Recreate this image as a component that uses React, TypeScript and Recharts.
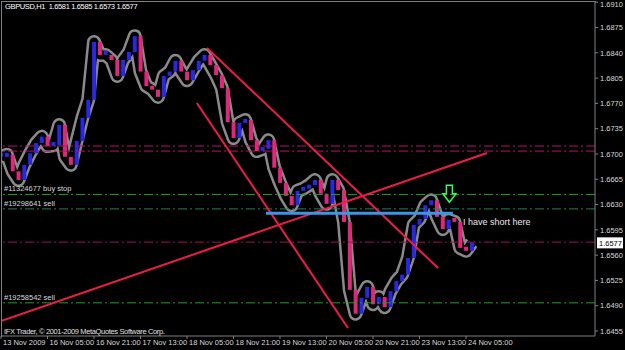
import React from "react";
import {
  ComposedChart, Area, Bar, Cell, XAxis, YAxis, ReferenceLine, ReferenceDot,
} from "recharts";

const FONT = "'Liberation Sans', Arial, sans-serif";
const GRAY = "#808080";
const TXT = { fontSize: 7.5, fill: "#d8d8d8", fontFamily: FONT };

// GBPUSD H1 closes, one point every 2 hourly bars (bar 0 = 13 Nov 2009)
const closes = [
  1.6696, 1.6699, 1.6676, 1.6664, 1.6685, 1.6701, 1.6715, 1.6724, 1.6711, 1.6712,
  1.6740, 1.6696, 1.6685, 1.6718, 1.6750, 1.6775, 1.6855, 1.6837, 1.6837, 1.6830,
  1.6808, 1.6830, 1.6841, 1.6863, 1.6814, 1.6794, 1.6789, 1.6779, 1.6808, 1.6814,
  1.6829, 1.6814, 1.6802, 1.6816, 1.6829, 1.6837, 1.6823, 1.6809, 1.6791, 1.6744,
  1.6722, 1.6743, 1.6747, 1.6719, 1.6704, 1.6707, 1.6719, 1.6681, 1.6660, 1.6642,
  1.6629, 1.6649, 1.6652, 1.6657, 1.6664, 1.6645, 1.6631, 1.6664, 1.6650, 1.6606,
  1.6512, 1.6479, 1.6501, 1.6516, 1.6492, 1.6502, 1.6488, 1.6510, 1.6524, 1.6533,
  1.6556, 1.6602, 1.6610, 1.6629, 1.6636, 1.6613, 1.6596, 1.6609, 1.6606, 1.6570,
  1.6566, 1.6577,
];

const xTicks = [0, 16, 32, 48, 64, 80, 96, 112, 128, 144, 160];
const xLabels = [
  "13 Nov 2009", "16 Nov 05:00", "16 Nov 21:00", "17 Nov 13:00", "18 Nov 05:00",
  "18 Nov 21:00", "19 Nov 13:00", "20 Nov 05:00", "20 Nov 21:00", "23 Nov 13:00",
  "24 Nov 05:00",
];
const yTicks = [
  1.6455, 1.6490, 1.6525, 1.6560, 1.6595, 1.6630, 1.6665, 1.6700,
  1.6735, 1.6770, 1.6805, 1.6840, 1.6875, 1.6910,
];

// horizontal order / level lines
const levels = [
  { price: 1.6711, color: "#b3166b", label: "" },
  { price: 1.6704, color: "#b3166b", label: "" },
  { price: 1.6644, color: "#1ea01e", label: "#11324677 buy stop" },
  { price: 1.6624, color: "#1f8060", label: "#19298641 sell" },
  { price: 1.6578, color: "#a0105a", label: "" },
  { price: 1.6494, color: "#1ea01e", label: "#19258542 sell" },
];

// hand-drawn trend lines: [bar, price] -> [bar, price]
const trends = [
  { from: [70.9, 1.68467], to: [150.4, 1.65422] },
  { from: [67.4, 1.67706], to: [119.4, 1.64592] },
  { from: [0, 1.64688], to: [167.2, 1.67014] },
];
const blueLine = { from: [91.2, 1.6618], to: [155.5, 1.6618] };

const arrowAt = { bar: 154.3, price: 1.6645 };
const noteAt = { bar: 159, price: 1.6606, text: "I have short here" };
const lastPrice = 1.6577;

const data = closes.map((c, i) => {
  const o = i ? closes[i - 1] : c;
  return { bar: i * 2, close: c, body: [Math.min(o, c), Math.max(o, c)], up: c >= o };
});

const XTick = ({ x, y, payload }: any) => (
  <text x={x + 2} y={y + 6} {...TXT}>{xLabels[xTicks.indexOf(payload.value)]}</text>
);
const YTick = ({ x, y, payload }: any) => (
  <text x={x + 2} y={Math.max(y + 2.7, 7)} {...TXT}>{payload.value.toFixed(4)}</text>
);

const Arrow = ({ cx, cy }: any) => (
  <polygon
    points={`${cx - 3},${cy - 8.5} ${cx + 3},${cy - 8.5} ${cx + 3},${cy} ${cx + 6.5},${cy} ${cx},${cy + 8.5} ${cx - 6.5},${cy} ${cx - 3},${cy}`}
    fill="none" stroke="#33ff55" strokeWidth={1.5}
  />
);
const Note = ({ cx, cy }: any) => (
  <text x={cx} y={cy + 3} fontSize={9} fill="#e8e8e8" fontFamily={FONT}>{noteAt.text}</text>
);
const PriceBox = ({ cx, cy }: any) => (
  <g>
    <rect x={cx + 2} y={cy - 5.5} width={26} height={11} fill="#fff" />
    <text x={cx + 4} y={cy + 3} fontSize={7.5} fill="#000" fontFamily={FONT}>{lastPrice.toFixed(4)}</text>
  </g>
);

export default function App() {
  return (
    <div style={{ position: "fixed", left: 0, top: 0, width: 625, height: 350, background: "#000", overflow: "hidden" }}>
      <ComposedChart width={625} height={350} data={data} margin={{ top: 2, right: 0, bottom: 0, left: 1 }}>
        <XAxis
          dataKey="bar" type="number" domain={[0, 204.4]} allowDataOverflow
          ticks={xTicks} interval={0} tick={<XTick />} height={14}
          tickSize={3} tickMargin={0} axisLine={{ stroke: GRAY }} tickLine={{ stroke: GRAY }}
        />
        <YAxis
          orientation="right" type="number" domain={[1.64481, 1.69103]} allowDataOverflow
          ticks={yTicks} interval={0} tick={<YTick />} width={30}
          tickSize={3} tickMargin={0} axisLine={{ stroke: GRAY }} tickLine={{ stroke: GRAY }}
        />
        {levels.map((l, i) => (
          <ReferenceLine
            key={i} y={l.price} stroke={l.color} strokeDasharray="9 3 2 3"
            label={l.label ? { value: l.label, position: "insideBottomLeft", offset: 3, ...TXT } : undefined}
          />
        ))}
        <Area
          dataKey="close" type="linear" stroke="#8a8a8a" strokeWidth={14} fill="none"
          strokeLinejoin="round" dot={false} activeDot={false} isAnimationActive={false}
        />
        <Area
          dataKey="close" type="linear" stroke="#000" strokeWidth={9} fill="none"
          strokeLinejoin="round" dot={false} activeDot={false} isAnimationActive={false}
        />
        <Bar dataKey="body" barSize={4} minPointSize={4} isAnimationActive={false}>
          {data.map((d, i) => <Cell key={i} fill={d.up ? "#2828e0" : "#e0287a"} />)}
        </Bar>
        {trends.map((t, i) => (
          <ReferenceLine
            key={i} ifOverflow="hidden" stroke="#ee1c48" strokeWidth={2}
            segment={[{ x: t.from[0], y: t.from[1] }, { x: t.to[0], y: t.to[1] }]}
          />
        ))}
        <ReferenceLine
          ifOverflow="hidden" stroke="#3a96ea" strokeWidth={3}
          segment={[{ x: blueLine.from[0], y: blueLine.from[1] }, { x: blueLine.to[0], y: blueLine.to[1] }]}
        />
        <ReferenceDot x={arrowAt.bar} y={arrowAt.price} r={0} shape={<Arrow />} />
        <ReferenceDot x={noteAt.bar} y={noteAt.price} r={0} shape={<Note />} />
        <ReferenceDot x={204.4} y={lastPrice} r={0} ifOverflow="visible" shape={<PriceBox />} />
      </ComposedChart>
      <div style={{ position: "absolute", left: 1, top: 1, width: 594, height: 335, borderLeft: `1px solid ${GRAY}`, borderTop: `1px solid ${GRAY}`, pointerEvents: "none" }} />
      <div style={{ position: "absolute", left: 5, top: 2, fontFamily: FONT, fontSize: 7.5, letterSpacing: -0.35, color: "#fff", whiteSpace: "pre" }}>
        GBPUSD,H1  1.6581 1.6585 1.6573 1.6577
      </div>
      <div style={{ position: "absolute", left: 4, top: 327, fontFamily: FONT, fontSize: 7.5, letterSpacing: -0.35, color: "#e0e0e0", whiteSpace: "pre" }}>
        IFX Trader, © 2001-2009 MetaQuotes Software Corp.
      </div>
    </div>
  );
}
